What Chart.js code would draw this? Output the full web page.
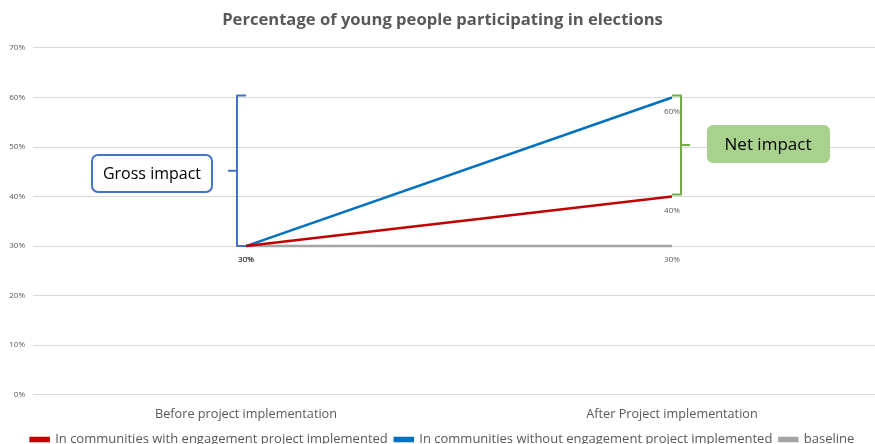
<!DOCTYPE html>
<html>
<head>
<meta charset="utf-8">
<script src="https://cdn.jsdelivr.net/npm/chart.js@4"></script>
<style>
  html, body { margin: 0; padding: 0; background: #fff; overflow: hidden; }
  #wrap { width: 885px; height: 456px; position: relative; }
</style>
</head>
<body>
<div id="wrap"><canvas id="c"></canvas></div>
<script>
// Явка молодёжи на выборы: до / после проекта
const categories = ["Before project implementation", "After Project implementation"];
const withProject = [30, 40];      // с проектом вовлечения
const withoutProject = [30, 60];   // без проекта
const baseline = [30, 30];
const yTicks = [0, 10, 20, 30, 40, 50, 60, 70];

const FONT = "'Open Sans', 'Liberation Sans', sans-serif";
const GREY = "#595959";

// подписи значений под точками
const pointLabels = {
  id: "pointLabels",
  afterDatasetsDraw(chart) {
    const ctx = chart.ctx;
    ctx.save();
    ctx.font = "8px " + FONT;
    ctx.fillStyle = GREY;
    ctx.textAlign = "center";
    ctx.textBaseline = "middle";
    chart.data.datasets.forEach((ds, i) => {
      const meta = chart.getDatasetMeta(i);
      meta.data.forEach((pt, j) => {
        ctx.fillText(ds.data[j] + "%", pt.x, pt.y + 14);
      });
    });
    ctx.restore();
  },
};

function roundBox(ctx, x, y, w, h, r) {
  ctx.beginPath();
  ctx.moveTo(x + r, y);
  ctx.arcTo(x + w, y, x + w, y + h, r);
  ctx.arcTo(x + w, y + h, x, y + h, r);
  ctx.arcTo(x, y + h, x, y, r);
  ctx.arcTo(x, y, x + w, y, r);
  ctx.closePath();
}

// фигурные скобки и подписи «Gross impact» / «Net impact»
const impactNotes = {
  id: "impactNotes",
  afterDatasetsDraw(chart) {
    const ctx = chart.ctx, xs = chart.scales.x, ys = chart.scales.y;
    const x0 = xs.getPixelForValue(0), x1 = xs.getPixelForValue(1);
    ctx.save();
    ctx.lineWidth = 2;
    ctx.lineJoin = "round";

    // левая скобка: от 30% до 60%
    const gTop = ys.getPixelForValue(withoutProject[1]) - 2;
    const gBot = ys.getPixelForValue(baseline[0]);
    const gx = x0 - 9, gMid = (gTop + gBot) / 2;
    ctx.strokeStyle = "#4472C4";
    ctx.beginPath();
    ctx.moveTo(x0, gTop); ctx.lineTo(gx, gTop);
    ctx.lineTo(gx, gBot); ctx.lineTo(x0, gBot);
    ctx.moveTo(gx, gMid); ctx.lineTo(gx - 9, gMid);
    ctx.stroke();

    roundBox(ctx, 92, 155, 120, 37, 6);
    ctx.fillStyle = "#fff";
    ctx.fill();
    ctx.stroke();
    ctx.fillStyle = "#000";
    ctx.font = "16px " + FONT;
    ctx.textAlign = "center";
    ctx.textBaseline = "middle";
    ctx.fillText("Gross impact", 152, 174);

    // правая скобка: от 40% до 60%
    const nTop = ys.getPixelForValue(withoutProject[1]) - 2;
    const nBot = ys.getPixelForValue(withProject[1]) - 2;
    const nx = x1 + 9, nMid = (nTop + nBot) / 2;
    ctx.strokeStyle = "#70AD47";
    ctx.beginPath();
    ctx.moveTo(x1, nTop); ctx.lineTo(nx, nTop);
    ctx.lineTo(nx, nBot); ctx.lineTo(x1, nBot);
    ctx.moveTo(nx, nMid); ctx.lineTo(nx + 9, nMid);
    ctx.stroke();

    roundBox(ctx, 707, 125, 123, 38, 6);
    ctx.fillStyle = "#A9D18E";
    ctx.fill();
    ctx.fillStyle = "#000";
    ctx.font = "17px " + FONT;
    ctx.fillText("Net impact", 768, 145);
    ctx.restore();
  },
};

const line = (label, data, color) => ({
  label, data,
  borderColor: color, backgroundColor: color,
  borderWidth: 2.5, pointRadius: 0, tension: 0,
});

new Chart(document.getElementById("c"), {
  type: "line",
  data: {
    labels: categories,
    datasets: [
      line("In communities with engagement project implemented", withProject, "#C00000"),
      line("In communities without engagement project implemented", withoutProject, "#0070C0"),
      line("baseline", baseline, "#A5A5A5"),
    ],
  },
  options: {
    responsive: true, maintainAspectRatio: false, animation: false,
    layout: { padding: 0 },
    plugins: {
      title: {
        display: true,
        text: "Percentage of young people participating in elections",
        color: GREY,
        font: { family: FONT, size: 16.6, weight: "bold" },
        padding: { top: 10, bottom: 18 },
      },
      legend: {
        position: "bottom",
        labels: {
          color: GREY, boxWidth: 18, boxHeight: 3, padding: 7,
          font: { family: FONT, size: 13 },
        },
      },
      tooltip: { enabled: false },
    },
    scales: {
      x: {
        offset: true,
        grid: { display: false },
        border: { display: false },
        ticks: { color: GREY, padding: 4, font: { family: FONT, size: 12.7 } },
      },
      y: {
        min: 0, max: 70,
        afterBuildTicks: (s) => { s.ticks = yTicks.map(v => ({ value: v })); },
        afterFit: (s) => { s.width = 33; },
        grid: { color: "#D9D9D9", drawTicks: false },
        border: { display: false },
        ticks: {
          color: GREY, padding: 8,
          font: { family: FONT, size: 8 },
          callback: (v) => v + "%",
        },
      },
    },
  },
  plugins: [pointLabels, impactNotes],
});
</script>
</body>
</html>
